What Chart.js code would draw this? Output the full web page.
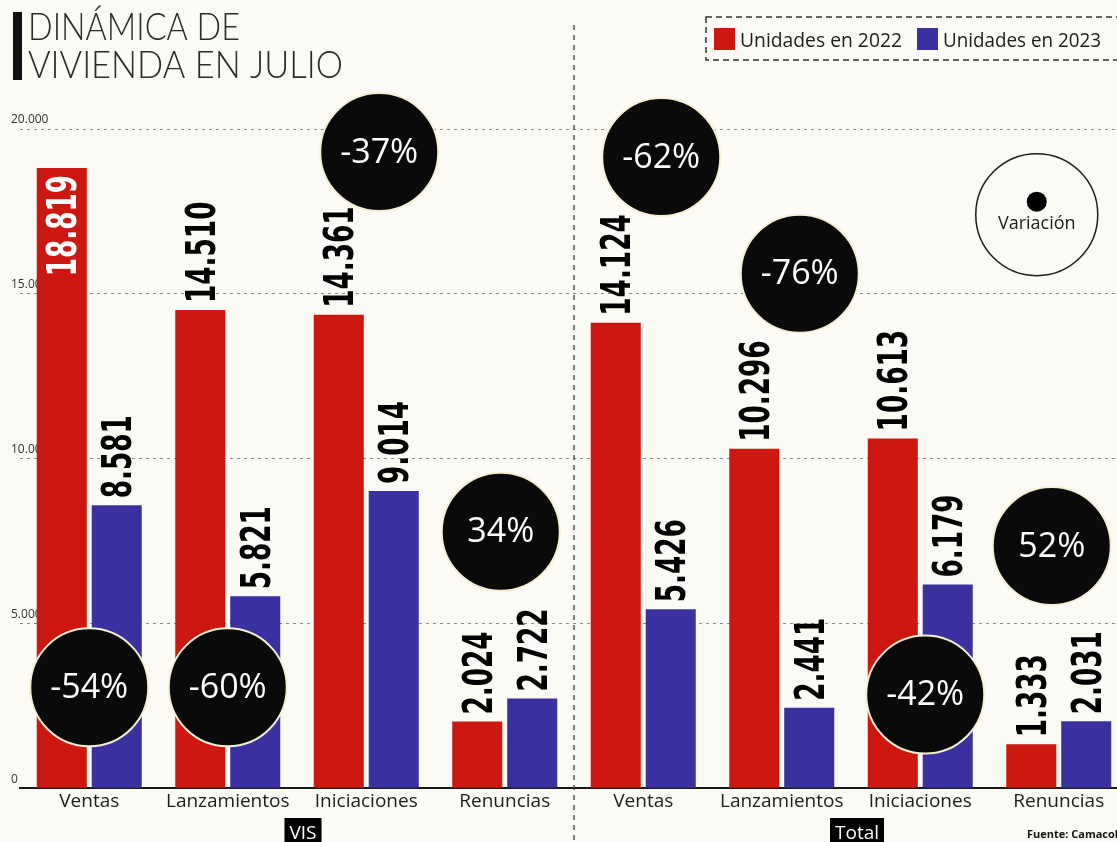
<!DOCTYPE html>
<html>
<head>
<meta charset="utf-8">
<script src="https://cdn.jsdelivr.net/npm/chart.js@4.4.0/dist/chart.umd.min.js"></script>
<style>
  html, body { margin: 0; padding: 0; background: #fbfaf5; overflow: hidden; }
  canvas { display: block; }
</style>
</head>
<body>
<canvas id="chart" width="1140" height="842"></canvas>
<script>
var categories = ["Ventas", "Lanzamientos", "Iniciaciones", "Renuncias",
                  "Ventas", "Lanzamientos", "Iniciaciones", "Renuncias"];
var groupNames = ["VIS", "Total"];
var units2022 = [18819, 14510, 14361, 2024, 14124, 10296, 10613, 1333];
var units2023 = [8581, 5821, 9014, 2722, 5426, 2441, 6179, 2031];
var variation = [-54, -60, -37, 34, -62, -76, -42, 52];
var yTicks = [0, 5000, 10000, 15000, 20000];

// where each variation bubble sits: [px shift from category centre, height in units]
var bubbleSpots = [[0, 3060], [0, 3060], [13, 19300], [-4, 7780],
                   [18, 19150], [18, 15610], [5, 2840], [-7, 7350]];

var RED = "#cd1812";
var BLUE = "#3a30a0";
var INK = "#1c1c1c";
var LABEL_FONT = "bold 40px 'DejaVu Sans Condensed', 'DejaVu Sans', sans-serif";
var LABEL_SQUEEZE = 0.73; // the print uses a narrow face

function miles(v) {
  return String(v).replace(/\B(?=(\d{3})+(?!\d))/g, ".");
}

// draw text squeezed/stretched to a given width
function fitText(c, txt, x, y, width) {
  var w = c.measureText(txt).width;
  c.save();
  c.translate(x, y);
  c.scale(width / w, 1);
  c.fillText(txt, 0, 0);
  c.restore();
}

var decor = {
  id: "decor",
  beforeDraw: function (chart) {
    var c = chart.ctx;
    var xs = chart.scales.x, ys = chart.scales.y;
    c.save();
    // title
    c.fillStyle = "#111";
    c.fillRect(13, 12, 9, 68);
    c.fillStyle = "#2b2b2b";
    c.font = "300 38px Lato, 'Open Sans', sans-serif";
    c.textAlign = "left";
    c.textBaseline = "alphabetic";
    fitText(c, "DINÁMICA DE", 28, 40, 212);
    fitText(c, "VIVIENDA EN JULIO", 28, 78, 315);

    // legend
    c.setLineDash([6, 4]);
    c.strokeStyle = "#333";
    c.lineWidth = 1.5;
    c.strokeRect(706, 17, 440, 43);
    c.setLineDash([]);
    var lx = [714, 917];
    var tw = [162, 158];
    c.font = "20px 'Open Sans', sans-serif";
    chart.data.datasets.forEach(function (ds, i) {
      c.fillStyle = ds.backgroundColor;
      c.fillRect(lx[i], 28, 21, 22);
      c.fillStyle = INK;
      fitText(c, ds.label, lx[i] + 26, 47, tw[i]);
    });

    // variation key
    var kx = xs.getPixelForValue(7) - 22;
    var ky = ys.getPixelForValue(17400);
    c.beginPath();
    c.arc(kx, ky, 61, 0, Math.PI * 2);
    c.strokeStyle = INK;
    c.lineWidth = 1.5;
    c.stroke();
    c.beginPath();
    c.arc(kx, ky - 13, 10, 0, Math.PI * 2);
    c.fillStyle = "#000";
    c.fill();
    c.fillStyle = INK;
    c.font = "18px 'Open Sans', sans-serif";
    c.textAlign = "center";
    c.fillText("Variación", kx, ky + 14);
    c.restore();
  },
  beforeDatasetsDraw: function (chart) {
    var c = chart.ctx;
    var xs = chart.scales.x;
    var mid = (xs.getPixelForValue(3) + xs.getPixelForValue(4)) / 2;
    c.save();
    c.setLineDash([5, 5]);
    c.strokeStyle = "#3a3a3a";
    c.lineWidth = 1.3;
    c.beginPath();
    c.moveTo(mid, 25);
    c.lineTo(mid, chart.height);
    c.stroke();
    c.restore();
  },
  afterDatasetsDraw: function (chart) {
    var c = chart.ctx;
    var xs = chart.scales.x, ys = chart.scales.y;
    c.save();
    c.font = LABEL_FONT;
    c.textBaseline = "alphabetic";
    var capH = 29;
    chart.data.datasets.forEach(function (ds, di) {
      chart.getDatasetMeta(di).data.forEach(function (bar, i) {
        var v = ds.data[i];
        c.save();
        if (v > 17000) {
          c.translate(bar.x, bar.y + 7);
          c.rotate(-Math.PI / 2);
          c.scale(LABEL_SQUEEZE, 1);
          c.textAlign = "right";
          c.fillStyle = "#fff";
        } else {
          c.translate(bar.x, bar.y - 7);
          c.rotate(-Math.PI / 2);
          c.scale(LABEL_SQUEEZE, 1);
          c.textAlign = "left";
          c.fillStyle = "#000";
        }
        c.fillText(miles(v), 0, capH / 2);
        c.restore();
      });
    });

    // variation bubbles
    c.font = "34px 'Open Sans', sans-serif";
    c.textAlign = "center";
    c.textBaseline = "middle";
    variation.forEach(function (p, i) {
      var bx = xs.getPixelForValue(i) + bubbleSpots[i][0];
      var by = ys.getPixelForValue(bubbleSpots[i][1]);
      c.beginPath();
      c.arc(bx, by, 59, 0, Math.PI * 2);
      c.fillStyle = "#0a0a0a";
      c.fill();
      c.strokeStyle = "#f4efd6";
      c.lineWidth = 2;
      c.stroke();
      c.fillStyle = "#fff";
      c.fillText(p + "%", bx, by + 1);
    });
    c.restore();
  },
  afterDraw: function (chart) {
    var c = chart.ctx;
    var xs = chart.scales.x;
    c.save();
    c.font = "19px 'Open Sans', sans-serif";
    c.textAlign = "center";
    c.textBaseline = "alphabetic";
    groupNames.forEach(function (g, k) {
      var gx = (xs.getPixelForValue(k * 4 + 1) + xs.getPixelForValue(k * 4 + 2)) / 2 + 6;
      var w = c.measureText(g).width + 10;
      c.fillStyle = "#000";
      c.fillRect(gx - w / 2, 818, w, 30);
      c.fillStyle = "#fff";
      c.fillText(g, gx, 839);
    });
    c.font = "bold 11px 'Open Sans', sans-serif";
    c.textAlign = "left";
    c.fillStyle = "#111";
    c.fillText("Fuente: Camacol", 1027, 838);
    c.restore();
  }
};

var ctx = document.getElementById("chart").getContext("2d");

var myChart = new Chart(ctx, {
  type: "bar",
  data: {
    labels: categories,
    datasets: [
      {
        label: "Unidades en 2022",
        data: units2022,
        backgroundColor: RED,
        categoryPercentage: 0.794,
        barPercentage: 0.91,
      },
      {
        label: "Unidades en 2023",
        data: units2023,
        backgroundColor: BLUE,
        categoryPercentage: 0.794,
        barPercentage: 0.91,
      },
    ],
  },
  options: {
    responsive: false,
    animation: false,
    layout: {
      padding: { left: 20, right: 12, top: 129, bottom: 27 },
    },
    plugins: {
      legend: { display: false },
      tooltip: { enabled: false },
    },
    scales: {
      x: {
        grid: { display: false, drawTicks: false },
        border: { display: true, color: "#1a1a1a", width: 2 },
        ticks: {
          padding: 2,
          color: INK,
          font: { family: "'Open Sans', sans-serif", size: 19 },
        },
      },
      y: {
        min: 0,
        max: 20000,
        afterBuildTicks: function (s) {
          s.ticks = yTicks.map(function (v) { return { value: v }; });
        },
        grid: { color: "#8a8a8a", lineWidth: 1, drawTicks: false },
        border: { display: false, dash: [3, 4] },
        ticks: {
          mirror: true,
          padding: -3,
          labelOffset: -9,
          color: "#333",
          font: { family: "'Open Sans', sans-serif", size: 12 },
          callback: function (v) { return miles(v); },
        },
      },
    },
  },
  plugins: [decor],
});
</script>
</body>
</html>
